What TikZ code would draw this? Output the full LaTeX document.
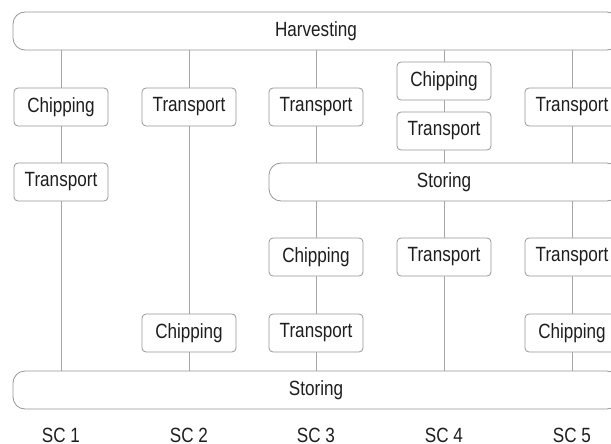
\documentclass[tikz,border=0pt]{standalone}
\usepackage{fontspec}
\setmainfont{Liberation Sans}[FakeStretch=0.83]
\definecolor{linegray}{RGB}{165,165,165}
\definecolor{boxgray}{RGB}{150,150,150}
\definecolor{txt}{RGB}{30,30,30}
\begin{document}
\begin{tikzpicture}[x=1pt,y=-1pt,
  every node/.style={text=txt,font=\fontsize{20.6}{23}\selectfont},
  stage/.style={draw=boxgray,line width=0.8pt,fill=white,rounded corners=4pt,minimum width=94pt,minimum height=38pt,inner sep=0pt},
  bigbox/.style={draw=boxgray,line width=0.8pt,fill=white,rounded corners=12pt,minimum height=38pt,inner sep=0pt},
  conn/.style={draw=linegray,line width=0.8pt},
  sclabel/.style={inner sep=0pt,anchor=base}]
\useasboundingbox (0,0) rectangle (611,444);
\begin{scope}
\clip (0,0) rectangle (611,444);
% big boxes
\node[bigbox,minimum width=606pt] (harv) at (316,31) {Harvesting};
\node[bigbox,minimum width=350pt] (stor1) at (444,182) {Storing};
\node[bigbox,minimum width=606pt] (stor2) at (316,390) {Storing};
% SC1
\node[stage] (a1) at (61,107) {Chipping};
\node[stage] (a2) at (61,182) {Transport};
% SC2
\node[stage] (b1) at (189,107) {Transport};
\node[stage] (b2) at (189,333) {Chipping};
% SC3
\node[stage] (c1) at (316,107) {Transport};
\node[stage] (c2) at (316,257) {Chipping};
\node[stage] (c3) at (316,333) {Transport};
% SC4
\node[stage] (d1) at (444,81) {Chipping};
\node[stage] (d2) at (444,131) {Transport};
\node[stage] (d3) at (444,257) {Transport};
% SC5
\node[stage] (e1) at (572,107) {Transport};
\node[stage] (e2) at (572,257) {Transport};
\node[stage] (e3) at (572,333) {Chipping};
% connectors
\path[conn] (harv.south -| a1) -- (a1.north);
\path[conn] (a1.south) -- (a2.north);
\path[conn] (a2.south) -- (stor2.north -| a2);
\path[conn] (harv.south -| b1) -- (b1.north);
\path[conn] (b1.south) -- (b2.north);
\path[conn] (b2.south) -- (stor2.north -| b2);
\path[conn] (harv.south -| c1) -- (c1.north);
\path[conn] (c1.south) -- (stor1.north -| c1);
\path[conn] (stor1.south -| c2) -- (c2.north);
\path[conn] (c2.south) -- (c3.north);
\path[conn] (c3.south) -- (stor2.north -| c3);
\path[conn] (harv.south -| d1) -- (d1.north);
\path[conn] (d1.south) -- (d2.north);
\path[conn] (d2.south) -- (stor1.north -| d2);
\path[conn] (stor1.south -| d3) -- (d3.north);
\path[conn] (d3.south) -- (stor2.north -| d3);
\path[conn] (harv.south -| e1) -- (e1.north);
\path[conn] (e1.south) -- (stor1.north -| e1);
\path[conn] (stor1.south -| e2) -- (e2.north);
\path[conn] (e2.south) -- (e3.north);
\path[conn] (e3.south) -- (stor2.north -| e3);
\end{scope}
% labels
\node[sclabel] (l1) at (61,442) {SC 1};
\node[sclabel] (l2) at (189,442) {SC 2};
\node[sclabel] (l3) at (316,442) {SC 3};
\node[sclabel] (l4) at (444,442) {SC 4};
\node[sclabel] (l5) at (572,442) {SC 5};
\end{tikzpicture}
\end{document}
